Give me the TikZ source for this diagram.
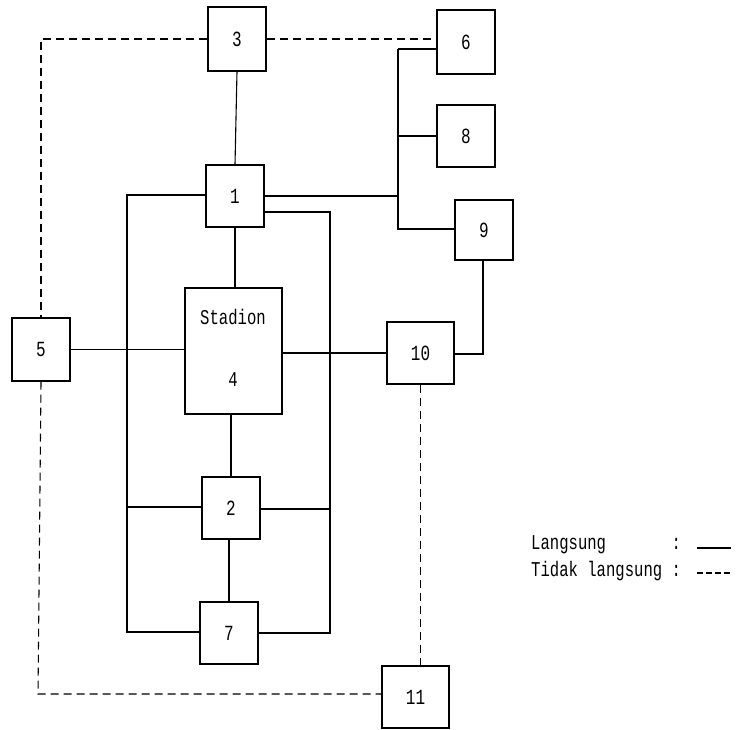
\documentclass[tikz,border=0pt]{standalone}
\usepackage{fontspec}
\setmonofont{Liberation Mono}
\usepackage{graphicx}
\newcommand\mytx[1]{\scalebox{1}[1.35]{#1}}
\begin{document}
\begin{tikzpicture}[x=1pt,y=-1pt,
 box/.style={draw,line width=1.1pt,minimum width=58pt,minimum height=62pt,inner sep=0pt,
   font=\ttfamily\fontsize{16}{16}\selectfont},
 con/.style={line width=1.1pt},
 thickcon/.style={line width=2.2pt},
 dsh/.style={line width=1.1pt,dash pattern=on 8pt off 5pt},
 lbl/.style={font=\ttfamily\fontsize{15.6}{16}\selectfont,inner sep=0pt}]
\useasboundingbox (0,0) rectangle (739,730);
% boxes
\node[box,minimum height=64pt] (n3) at (237,39) {\mytx{3}};
\node[box,minimum height=64pt] (n6) at (466,42) {\mytx{6}};
\node[box] (n8) at (466,136) {\mytx{8}};
\node[box,minimum height=60pt] (n9) at (484,230) {\mytx{9}};
\node[box] (n1) at (235,196) {\mytx{1}};
\node[box,minimum width=97pt,minimum height=126pt] (n4) at (233.5,351) {};
\node[lbl] (t4a) at (233,317) {\mytx{Stadion}};
\node[lbl] (t4b) at (233,380) {\mytx{4}};
\node[box,minimum height=63pt] (n5) at (41,349.5) {\mytx{5}};
\node[box,minimum width=67pt] (n10) at (420.5,353) {\mytx{10}};
\node[box] (n2) at (231,508) {\mytx{2}};
\node[box] (n7) at (229,633) {\mytx{7}};
\node[box,minimum width=67pt] (n11) at (415.5,697) {\mytx{11}};
% helper coordinates
\coordinate (tl) at (43,39);
\coordinate (bl) at (38,694);
\coordinate (busT) at (398,49);
\coordinate (bus1) at (398,196);
\coordinate (bus8) at (398,136);
\coordinate (busB) at (398,229);
\coordinate (lvT) at (127,195);
\coordinate (lvB) at (127,632);
\coordinate (lv2) at (127,507);
\coordinate (rvT) at (330,212);
\coordinate (rvB) at (330,633);
\coordinate (rv2) at (330,509);
\coordinate (r10) at (483,354);
% dashed (indirect)
\draw[dsh] (n3.west) -- (tl) -- (tl -| n5.north) -- (n5.north);
\draw[dsh] (n3.east) -- (n3.east -| n6.west);
\draw[dsh] (n5.south) -- (bl) -- (bl -| n11.west);
\draw[dsh] (n10.south) -- (n10.south |- n11.north);
% solid (direct)
\draw[con] (n3.south) -- (n1.north);
\draw[con] (n1.east |- bus1) -- (bus1);
\draw[con] (busT) -- (busB) -- (busB -| n9.west);
\draw[thickcon] (busT) -- (busT -| n6.west);
\draw[con] (bus8) -- (bus8 -| n8.west);
\draw[con] (n1.west |- lvT) -- (lvT) -- (lvB) -- (lvB -| n7.west);
\draw[con] (lv2) -- (lv2 -| n2.west);
\draw[con] (n1.east |- rvT) -- (rvT) -- (rvB) -- (rvB -| n7.east);
\draw[con] (n2.east |- rv2) -- (rv2);
\draw[con] (n1.south) -- (n1.south |- n4.north);
\draw[con] (n4.south -| n2.north) -- (n2.north);
\draw[con] (n2.south -| n7.north) -- (n7.north);
\draw[con] (n5.east) -- (n5.east -| n4.west);
\draw[con] (n4.east |- n10.west) -- (n10.west);
\draw[con] (n10.east |- r10) -- (r10) -- (r10 |- n9.south);
% legend
\node[lbl,anchor=west] (lg1) at (531,545) {\mytx{Langsung\ \ \ \ \ \ \ :}};
\node[lbl,anchor=west] (lg2) at (531,571) {\mytx{Tidak langsung :}};
\coordinate (l1a) at (697,548);
\coordinate (l1b) at (731,548);
\coordinate (l2a) at (697,573);
\coordinate (l2b) at (731,573);
\draw[con] (l1a) -- (l1b);
\draw[con,dash pattern=on 6pt off 3pt] (l2a) -- (l2b);
\end{tikzpicture}
\end{document}
